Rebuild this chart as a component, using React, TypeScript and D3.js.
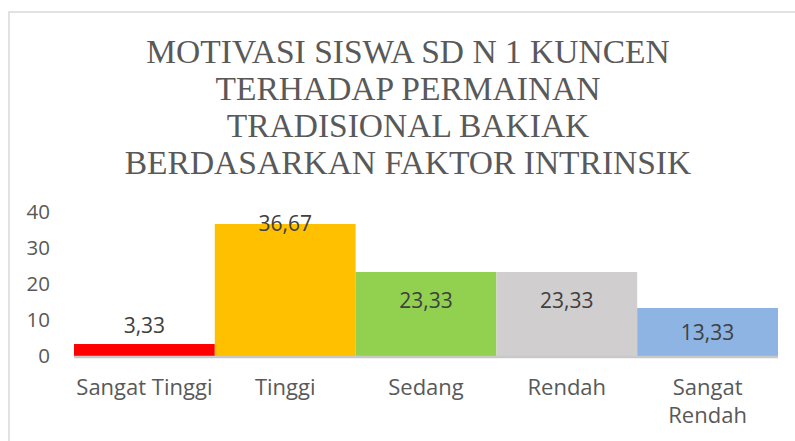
import React from "react";
import * as d3 from "d3";

const categories: string[][] = [["Sangat Tinggi"], ["Tinggi"], ["Sedang"], ["Rendah"], ["Sangat", "Rendah"]];
const values: number[] = [3.33, 36.67, 23.33, 23.33, 13.33];
const valueLabels: string[] = ["3,33", "36,67", "23,33", "23,33", "13,33"];
const colors: string[] = ["#ff0000", "#ffc000", "#92d050", "#d0cece", "#8db4e2"];
const yTicks: number[] = [0, 10, 20, 30, 40];
const titleLines: string[] = [
  "MOTIVASI SISWA SD N 1 KUNCEN",
  "TERHADAP PERMAINAN",
  "TRADISIONAL BAKIAK",
  "BERDASARKAN FAKTOR INTRINSIK",
];

// label vertical offset (center relative to bar top), mimicking original placement
const labelCenterOffset = [-19, 0, 28, 28, 24];

export default function App() {
  const W = 795;
  const H = 441;
  const x = d3.scaleBand<number>().domain(d3.range(values.length)).range([74, 778]).padding(0);
  const y = d3.scaleLinear().domain([0, 40]).range([356, 212]);
  const fs = 20.5;
  const fsData = 21;
  const fsCat = 22;
  const sans = "'Open Sans', sans-serif";
  return (
    <svg width={W} height={H} style={{ position: "absolute", left: 0, top: 0, background: "#fff" }}>
      <rect x={9} y={12} width={W + 20} height={H + 20} fill="#fff" stroke="#d9d9d9" strokeWidth={1.5} />
      {titleLines.map((t, i) => (
        <text
          key={i}
          x={408}
          y={63 + i * 37}
          textAnchor="middle"
          fontFamily="'Liberation Serif', 'Times New Roman', serif"
          fontSize={33.5}
          fill="#595959"
        >
          {t}
        </text>
      ))}
      {yTicks.map((t) => (
        <text key={t} x={50} y={y(t) + 0.357 * fs} textAnchor="end" fontFamily={sans} fontSize={fs} fill="#595959">
          {t}
        </text>
      ))}
      {values.map((v, i) => (
        <rect key={i} x={x(i)!} y={y(v)} width={x.bandwidth()} height={y(0) - y(v)} fill={colors[i]} />
      ))}
      <line x1={74} x2={778} y1={y(0) + 1} y2={y(0) + 1} stroke="#c8c8c8" strokeWidth={2.5} />
      {values.map((v, i) => (
        <text
          key={i}
          x={x(i)! + x.bandwidth() / 2}
          y={y(v) + labelCenterOffset[i] + 0.357 * fsData}
          textAnchor="middle"
          fontFamily={sans}
          fontSize={fsData}
          fill="#404040"
        >
          {valueLabels[i]}
        </text>
      ))}
      {categories.map((lines, i) => (
        <text
          key={i}
          x={x(i)! + x.bandwidth() / 2}
          y={395}
          textAnchor="middle"
          fontFamily={sans}
          fontSize={fsCat}
          fill="#595959"
        >
          {lines.map((l, j) => (
            <tspan key={j} x={x(i)! + x.bandwidth() / 2} dy={j === 0 ? 0 : 28}>
              {l}
            </tspan>
          ))}
        </text>
      ))}
    </svg>
  );
}
